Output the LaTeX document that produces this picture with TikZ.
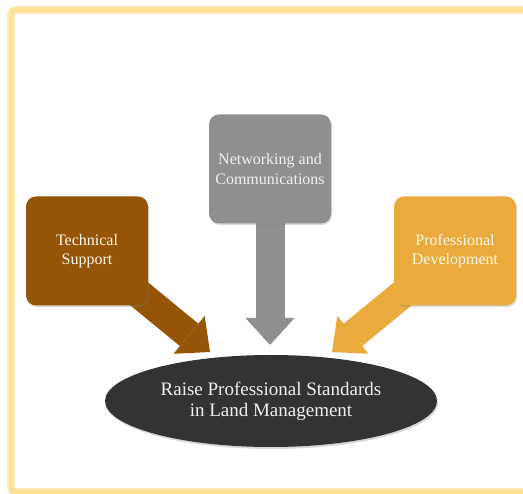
\documentclass[tikz,border=0pt]{standalone}
\usepackage{fontspec}
\setmainfont{Liberation Serif}
\usetikzlibrary{shapes.geometric}
\usetikzlibrary{arrows.meta}
\usetikzlibrary{shadows}
\usetikzlibrary{backgrounds}
\definecolor{techbrown}{RGB}{150,84,6}
\definecolor{netgray}{RGB}{143,143,143}
\definecolor{proforange}{RGB}{234,170,60}
\definecolor{goaldark}{RGB}{51,51,51}
\definecolor{framegold}{RGB}{255,224,148}
\definecolor{cream}{RGB}{255,250,236}

\begin{document}
\begin{tikzpicture}[line cap=butt,line join=miter,x=1pt,y=-1pt,
    box/.style={rectangle, rounded corners=10pt, minimum width=122pt, minimum height=109pt, inner sep=0pt,
      text=cream, align=center, font=\fontsize{16}{19.5}\selectfont,
      drop shadow={opacity=0.3, shadow xshift=1pt, shadow yshift=-1.5pt}},
    fat/.style={line width=29pt, -{Triangle[width=49pt,length=27pt,line width=0pt]}}]
                        \useasboundingbox (0,0) rectangle (523,494);

                        % frame round the page
                        \draw [framegold!60, line width=8pt, rounded corners=5pt] (11,10) rectangle (540,492);
                        \draw [framegold, line width=5pt, rounded corners=4pt] (11,10) rectangle (540,492);

                        \node[box, fill=techbrown] (tech) at (87,251) {Technical\\Support};
                        \node[box, fill=netgray, text=white!95!black] (netw) at (270,169) {Networking and\\Communications};
                        \node[box, fill=proforange] (prof) at (455,251) {Professional\\Development};

                        \node[ellipse, fill=goaldark, minimum width=332pt, minimum height=92pt, inner sep=0pt,
                          text=white!94!black, align=center, font=\fontsize{19}{21}\selectfont,
                          drop shadow={opacity=0.3, shadow xshift=1pt, shadow yshift=-2pt}] (goal) at (271,401)
                          {Raise Professional Standards\\in Land Management};

                        \coordinate (tipT) at (210,352);
                        \coordinate (tipN) at (270,345);
                        \coordinate (tipP) at (332,352);

                        \begin{scope}[on background layer]
                        \fill [white] (0,0) rectangle (523,494);
                        \draw [fat, techbrown] (tech.center) -- (tipT);
                        \draw [fat, netgray] (netw.center) -- (tipN);
                        \draw [fat, proforange] (prof.center) -- (tipP);
                        \end{scope}
                    \end{tikzpicture}
\end{document}
